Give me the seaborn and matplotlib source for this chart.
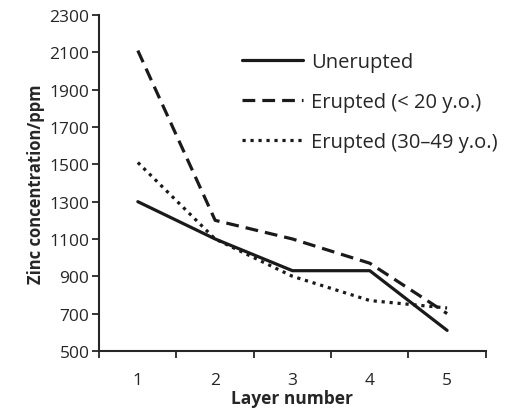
import pandas as pd
import matplotlib.pyplot as plt
import seaborn as sns

# layer numbers and zinc concentrations (ppm)
layers = [1, 2, 3, 4, 5]
unerupted = [1300, 1100, 930, 930, 610]
erupted_young = [2110, 1200, 1100, 970, 700]
erupted_old = [1510, 1100, 900, 770, 730]
series_names = ['Unerupted', 'Erupted (< 20 y.o.)', 'Erupted (30\u201349 y.o.)']

df = pd.DataFrame({
    'Layer': layers * 3,
    'Zinc': unerupted + erupted_young + erupted_old,
    'Group': [series_names[0]] * 5 + [series_names[1]] * 5 + [series_names[2]] * 5,
})

sns.set_style("ticks")
plt.rcParams['font.family'] = ['Open Sans', 'DejaVu Sans']

fig = plt.figure(figsize=(5.06, 4.14), dpi=100)
ax = fig.add_axes([0.196, 0.150, 0.764, 0.811])

sns.lineplot(data=df, x='Layer', y='Zinc', hue='Group', style='Group',
             palette=['#1a1a1a'] * 3,
             dashes={series_names[0]: '', series_names[1]: (4, 2.2), series_names[2]: (1, 1.5)},
             linewidth=2.3, ax=ax)

ax.set_xlim(0.5, 5.5)
ax.set_ylim(500, 2300)
ax.set_yticks(range(500, 2301, 200))
ax.set_xticks(layers)
ax.set_xticks([0.5, 1.5, 2.5, 3.5, 4.5, 5.5], minor=True)
ax.tick_params(axis='x', which='major', length=0, pad=15, labelsize=12.5)
ax.tick_params(axis='x', which='minor', length=5, width=1.3, direction='out')
ax.tick_params(axis='y', length=5, width=1.3, labelsize=12.5, pad=2)
for s in ['left', 'bottom']:
    ax.spines[s].set_linewidth(1.5)
sns.despine(ax=ax)

ax.set_xlabel('Layer number', fontweight='bold', fontsize=12.5, labelpad=1)
ax.set_ylabel('Zinc concentration/ppm', fontweight='bold', fontsize=12, labelpad=3)

leg = ax.legend(frameon=False, fontsize=14.5, loc='upper left',
                bbox_to_anchor=(0.37, 0.89), borderpad=0, borderaxespad=0,
                handlelength=3.0, handletextpad=0.4, labelspacing=1.0)

plt.savefig('out.png', dpi=100)
plt.close()
